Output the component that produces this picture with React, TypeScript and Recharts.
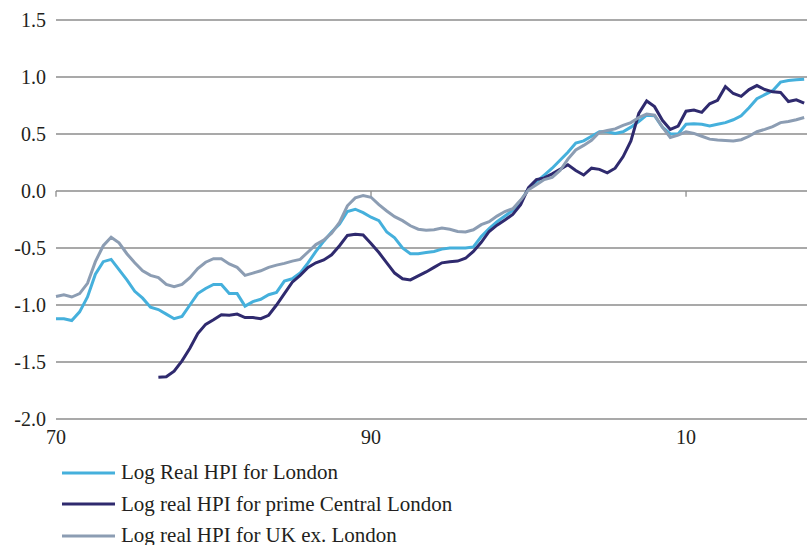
import React from 'react';
import { LineChart, Line, XAxis, YAxis, CartesianGrid, ReferenceLine, Legend } from 'recharts';

// half-yearly observations, 1970 to 2017.5
const YEARS = [
  1970, 1970.5, 1971, 1971.5, 1972, 1972.5, 1973, 1973.5, 1974, 1974.5,
  1975, 1975.5, 1976, 1976.5, 1977, 1977.5, 1978, 1978.5, 1979, 1979.5,
  1980, 1980.5, 1981, 1981.5, 1982, 1982.5, 1983, 1983.5, 1984, 1984.5,
  1985, 1985.5, 1986, 1986.5, 1987, 1987.5, 1988, 1988.5, 1989, 1989.5,
  1990, 1990.5, 1991, 1991.5, 1992, 1992.5, 1993, 1993.5, 1994, 1994.5,
  1995, 1995.5, 1996, 1996.5, 1997, 1997.5, 1998, 1998.5, 1999, 1999.5,
  2000, 2000.5, 2001, 2001.5, 2002, 2002.5, 2003, 2003.5, 2004, 2004.5,
  2005, 2005.5, 2006, 2006.5, 2007, 2007.5, 2008, 2008.5, 2009, 2009.5,
  2010, 2010.5, 2011, 2011.5, 2012, 2012.5, 2013, 2013.5, 2014, 2014.5,
  2015, 2015.5, 2016, 2016.5, 2017, 2017.5,
];

const LONDON = [
  -1.12, -1.12, -1.136, -1.06, -0.93, -0.73, -0.62, -0.6, -0.69, -0.78,
  -0.88, -0.94, -1.02, -1.04, -1.08, -1.12, -1.1, -1.0, -0.9, -0.855,
  -0.82, -0.82, -0.9, -0.9, -1.01, -0.97, -0.95, -0.91, -0.89, -0.79,
  -0.77, -0.72, -0.63, -0.53, -0.44, -0.36, -0.29, -0.18, -0.16, -0.19,
  -0.23, -0.26, -0.36, -0.41, -0.5, -0.55, -0.55, -0.54, -0.53, -0.51,
  -0.5, -0.5, -0.5, -0.49, -0.4, -0.33, -0.27, -0.22, -0.17, -0.09,
  0.02, 0.08, 0.14, 0.2, 0.27, 0.34, 0.42, 0.44, 0.48, 0.52,
  0.52, 0.505, 0.52, 0.56, 0.61, 0.665, 0.66, 0.56, 0.5, 0.5,
  0.585, 0.59, 0.585, 0.57, 0.585, 0.6, 0.625, 0.66, 0.73, 0.81,
  0.845, 0.88, 0.955, 0.97, 0.975, 0.98,
];

const PRIME = [
  null, null, null, null, null, null, null, null, null, null,
  null, null, null, -1.634, -1.63, -1.58, -1.49, -1.38, -1.25, -1.17,
  -1.13, -1.085, -1.09, -1.08, -1.11, -1.11, -1.12, -1.09, -1.0, -0.9,
  -0.8, -0.74, -0.67, -0.63, -0.605, -0.56, -0.48, -0.39, -0.38, -0.385,
  -0.46, -0.54, -0.63, -0.72, -0.77, -0.78, -0.745, -0.71, -0.67, -0.63,
  -0.62, -0.615, -0.59, -0.53, -0.45, -0.355, -0.3, -0.255, -0.205, -0.12,
  0.03, 0.1, 0.115, 0.15, 0.19, 0.23, 0.18, 0.14, 0.2, 0.19,
  0.16, 0.2, 0.3, 0.44, 0.68, 0.79, 0.74, 0.62, 0.54, 0.57,
  0.7, 0.71, 0.69, 0.765, 0.795, 0.915, 0.855, 0.83, 0.89, 0.925,
  0.89, 0.87, 0.865, 0.785, 0.8, 0.77,
];

const UK_EX_LONDON = [
  -0.925, -0.91, -0.93, -0.9, -0.81, -0.62, -0.48, -0.405, -0.455, -0.55,
  -0.63, -0.7, -0.74, -0.76, -0.82, -0.84, -0.82, -0.76, -0.68, -0.625,
  -0.594, -0.594, -0.64, -0.67, -0.74, -0.72, -0.7, -0.67, -0.65, -0.635,
  -0.615, -0.6, -0.535, -0.47, -0.43, -0.37, -0.275, -0.13, -0.06, -0.04,
  -0.055, -0.12, -0.175, -0.225, -0.26, -0.305, -0.335, -0.345, -0.34, -0.325,
  -0.335, -0.355, -0.36, -0.34, -0.295, -0.27, -0.22, -0.18, -0.155, -0.08,
  0.01, 0.055, 0.1, 0.12, 0.18, 0.28, 0.36, 0.4, 0.445, 0.515,
  0.53, 0.545, 0.575, 0.6, 0.645, 0.675, 0.665, 0.56, 0.47, 0.49,
  0.52, 0.505, 0.48, 0.455, 0.447, 0.443, 0.438, 0.45, 0.48, 0.52,
  0.54, 0.565, 0.6, 0.61, 0.625, 0.645,
];

const X_TICKS = [1970, 1990, 2010];
const Y_TICKS = [-2, -1.5, -1, -0.5, 0, 0.5, 1, 1.5];

const SERIES = [
  { key: 'london', name: 'Log Real HPI for London', color: '#45b0dc' },
  { key: 'prime', name: 'Log real HPI for prime Central London', color: '#2f2a6e' },
  { key: 'uk', name: 'Log real HPI for UK ex. London', color: '#8c9db3' },
];

const data = YEARS.map((year, i) => ({
  year,
  london: LONDON[i],
  prime: PRIME[i],
  uk: UK_EX_LONDON[i],
}));

const FONT = '"Liberation Serif", "Times New Roman", serif';
const TEXT = '#231f20';
const GRID = '#8c8c8c';

const LegendRows = () => (
  <div style={{ fontFamily: FONT, fontSize: 21, color: TEXT }}>
    {SERIES.map(s => (
      <div key={s.key} style={{ display: 'flex', alignItems: 'center', height: 31.5 }}>
        <svg width={59} height={6} style={{ marginLeft: 62 }}>
          <line x1={0} y1={3} x2={53} y2={3} stroke={s.color} strokeWidth={3} />
        </svg>
        <span style={{ whiteSpace: 'nowrap' }}>{s.name}</span>
      </div>
    ))}
  </div>
);

const App: React.FC = () => {
  return (
    <div style={{ position: 'absolute', left: 0, top: 0, width: 807, height: 545, background: '#fff' }}>
      <LineChart width={807} height={545} data={data} margin={{ top: 20, right: 0, bottom: 0, left: 0 }}>
        <CartesianGrid vertical={false} stroke={GRID} strokeWidth={1.3} />
        <XAxis
          dataKey="year"
          type="number"
          domain={[1970, 2017.68]}
          ticks={X_TICKS}
          tickFormatter={(v: number) => String(v % 100).padStart(2, '0')}
          axisLine={false}
          tickLine={false}
          tickSize={0}
          tickMargin={11}
          height={126}
          interval={0}
          tick={{ fontFamily: FONT, fontSize: 20, fill: TEXT }}
        />
        <YAxis
          type="number"
          domain={[-2, 1.5]}
          ticks={Y_TICKS}
          tickFormatter={(v: number) => v.toFixed(1)}
          axisLine={false}
          tickLine={false}
          tickSize={0}
          tickMargin={10}
          width={56}
          interval={0}
          tick={{ fontFamily: FONT, fontSize: 20, fill: TEXT }}
        />
        {X_TICKS.map(t => (
          <ReferenceLine
            key={t}
            segment={[{ x: t, y: 0 }, { x: t, y: -0.05 }]}
            stroke={GRID}
            strokeWidth={1.3}
          />
        ))}
        {SERIES.map(s => (
          <Line
            key={s.key}
            type="linear"
            dataKey={s.key}
            name={s.name}
            stroke={s.color}
            strokeWidth={3}
            dot={false}
            connectNulls={false}
            isAnimationActive={false}
          />
        ))}
        <Legend
          layout="vertical"
          align="center"
          verticalAlign="middle"
          content={<LegendRows />}
          wrapperStyle={{ left: 0, top: 457, width: 600 }}
        />
      </LineChart>
    </div>
  );
};

export default App;
